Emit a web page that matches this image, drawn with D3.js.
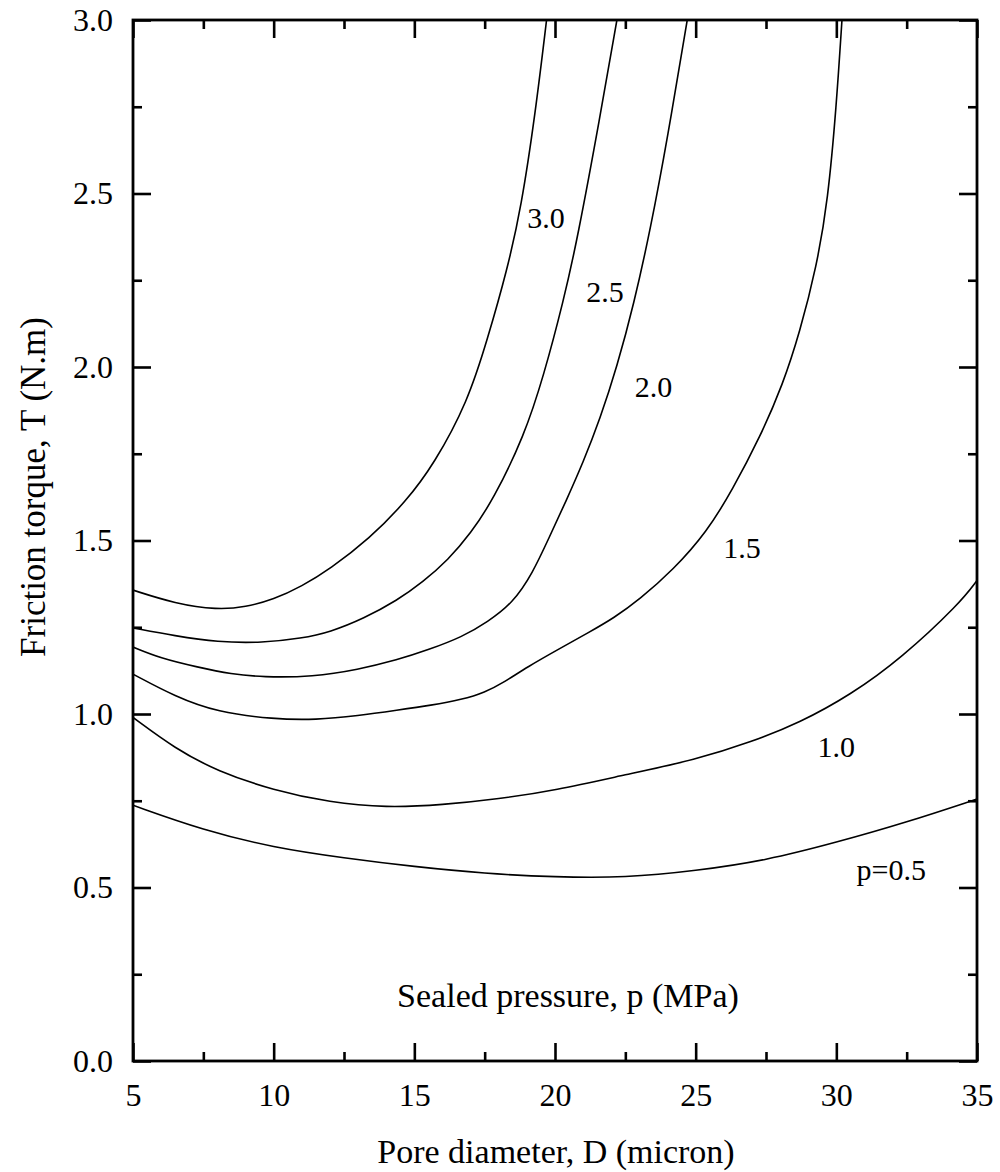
<!DOCTYPE html>
<html>
<head>
<meta charset="utf-8">
<script src="https://cdn.jsdelivr.net/npm/d3@7"></script>
<style>
  body { margin: 0; background: #fff; }
  svg text { font-family: "Liberation Serif", "Times New Roman", serif; fill: #000; }
</style>
</head>
<body>
<svg id="chart" width="1000" height="1172"></svg>
<script>
// Axis ticks
const xMajorTicks = [5, 10, 15, 20, 25, 30, 35];
const xMinorTicks = [7.5, 12.5, 17.5, 22.5, 27.5, 32.5];
const yMajorTicks = [0.0, 0.5, 1.0, 1.5, 2.0, 2.5, 3.0];
const yMinorTicks = [0.25, 0.75, 1.25, 1.75, 2.25, 2.75];

// Sealed pressure curves: pore diameter D (micron) vs friction torque T (N.m)
const p05D = [5, 7.5, 10, 12.5, 15, 17.5, 20, 22.5, 25, 27.5, 30, 32.5, 35];
const p05T = [0.737, 0.665, 0.615, 0.585, 0.56, 0.54, 0.53, 0.528, 0.548, 0.578, 0.63, 0.688, 0.755];

const p10D = [5, 6.5, 8, 10, 12, 14, 16, 18, 20, 22.5, 25, 27, 28.7, 30.5, 32.3, 34.4, 35];
const p10T = [0.99, 0.90, 0.835, 0.78, 0.745, 0.73, 0.738, 0.755, 0.78, 0.825, 0.868, 0.92, 0.975, 1.055, 1.16, 1.32, 1.385];

const p15D = [5, 6.5, 8, 10, 11.5, 13, 14.4, 15.6, 16.7, 17.5, 18.2, 19, 20.2, 21.2, 22.1, 23, 24.2, 25.4, 26.3, 27.3, 28.1, 28.7, 29.3, 29.7, 30.0, 30.2];
const p15T = [1.115, 1.05, 1.005, 0.985, 0.983, 0.995, 1.011, 1.025, 1.042, 1.062, 1.092, 1.135, 1.19, 1.235, 1.277, 1.33, 1.415, 1.525, 1.645, 1.80, 1.95, 2.10, 2.29, 2.48, 2.75, 3.0];

const p20D = [5, 6, 7.3, 8.5, 9.6, 11.4, 13, 14.4, 15.5, 16.7, 17.6, 18.5, 19.2, 19.8, 20.4, 21, 21.6, 22.2, 22.8, 23.4, 24, 24.7];
const p20T = [1.193, 1.16, 1.135, 1.115, 1.106, 1.107, 1.128, 1.156, 1.185, 1.222, 1.265, 1.32, 1.405, 1.51, 1.615, 1.725, 1.85, 2.0, 2.18, 2.40, 2.66, 3.0];

const p25D = [5, 6.5, 8, 9.6, 11, 12, 13.2, 14.4, 15.3, 16.2, 17, 17.8, 18.9, 19.6, 20.3, 20.8, 21.6, 22.2];
const p25T = [1.248, 1.225, 1.207, 1.205, 1.218, 1.236, 1.275, 1.328, 1.38, 1.444, 1.52, 1.617, 1.80, 1.975, 2.19, 2.37, 2.72, 3.0];

const p30D = [5, 6.5, 8, 9, 10, 11, 12, 13.4, 14.7, 15.7, 16.9, 17.6, 18.3, 18.8, 19.3, 19.7];
const p30T = [1.357, 1.318, 1.300, 1.308, 1.33, 1.368, 1.418, 1.505, 1.612, 1.72, 1.90, 2.08, 2.28, 2.46, 2.73, 3.0];

// Curve labels
const curveLabels = ["p=0.5", "1.0", "1.5", "2.0", "2.5", "3.0"];
const labelD = [31.95, 30.0, 26.65, 23.5, 21.78, 19.68];
const labelT = [0.523, 0.876, 1.45, 1.913, 2.187, 2.40];

const series = [
  { D: p05D, T: p05T },
  { D: p10D, T: p10T },
  { D: p15D, T: p15T },
  { D: p20D, T: p20T },
  { D: p25D, T: p25T },
  { D: p30D, T: p30T }
];

const plotLeft = 133, plotRight = 977, plotTop = 20, plotBottom = 1061;
const W = plotRight - plotLeft, H = plotBottom - plotTop;

const svg = d3.select("#chart");
const g = svg.append("g").attr("transform", `translate(${plotLeft},${plotTop})`);

const x = d3.scaleLinear().domain([5, 35]).range([0, W]);
const y = d3.scaleLinear().domain([0, 3]).range([H, 0]);

// Clip so the steep branches end at the top border
g.append("clipPath").attr("id", "plot-clip")
  .append("rect").attr("width", W).attr("height", H);

const line = d3.line()
  .x(d => x(d[0]))
  .y(d => y(d[1]))
  .curve(d3.curveBasis);

g.append("g").attr("clip-path", "url(#plot-clip)")
  .selectAll("path")
  .data(series)
  .join("path")
  .attr("d", s => line(s.D.map((d, i) => [d, s.T[i]])))
  .attr("fill", "none")
  .attr("stroke", "#000")
  .attr("stroke-width", 1.6);

// Axes with inward ticks on all four sides
const TICK_W = 2.6;
function styleAxis(sel) {
  sel.select(".domain").remove();
  sel.selectAll(".tick line").attr("stroke", "#000").attr("stroke-width", TICK_W);
}

g.append("g").attr("transform", `translate(0,${H})`)
  .call(d3.axisBottom(x).tickValues(xMajorTicks).tickSize(-18).tickPadding(22).tickFormat(d3.format("d")))
  .call(styleAxis)
  .call(a => a.selectAll("text").attr("font-size", 32).attr("font-family", "Liberation Serif"));
g.append("g").attr("transform", `translate(0,${H})`)
  .call(d3.axisBottom(x).tickValues(xMinorTicks).tickSize(-9).tickFormat(""))
  .call(styleAxis);
g.append("g")
  .call(d3.axisTop(x).tickValues(xMajorTicks).tickSize(-18).tickFormat(""))
  .call(styleAxis);
g.append("g")
  .call(d3.axisTop(x).tickValues(xMinorTicks).tickSize(-9).tickFormat(""))
  .call(styleAxis);

g.append("g")
  .call(d3.axisLeft(y).tickValues(yMajorTicks).tickSize(-18).tickPadding(20).tickFormat(d3.format(".1f")))
  .call(styleAxis)
  .call(a => a.selectAll("text").attr("font-size", 32).attr("font-family", "Liberation Serif"));
g.append("g")
  .call(d3.axisLeft(y).tickValues(yMinorTicks).tickSize(-9).tickFormat(""))
  .call(styleAxis);
g.append("g").attr("transform", `translate(${W},0)`)
  .call(d3.axisRight(y).tickValues(yMajorTicks).tickSize(-18).tickFormat(""))
  .call(styleAxis);
g.append("g").attr("transform", `translate(${W},0)`)
  .call(d3.axisRight(y).tickValues(yMinorTicks).tickSize(-9).tickFormat(""))
  .call(styleAxis);

// Frame
g.append("rect")
  .attr("width", W).attr("height", H)
  .attr("fill", "none").attr("stroke", "#000").attr("stroke-width", 2.8);

// Curve labels
g.append("g").selectAll("text")
  .data(curveLabels)
  .join("text")
  .attr("x", (d, i) => x(labelD[i]))
  .attr("y", (d, i) => y(labelT[i]))
  .attr("text-anchor", "middle")
  .attr("font-size", 30)
  .text(d => d);

// Caption inside the plot
svg.append("text")
  .attr("x", 568).attr("y", 1007)
  .attr("text-anchor", "middle")
  .attr("font-size", 34)
  .text("Sealed pressure, p (MPa)");

// Axis titles
svg.append("text")
  .attr("x", 556).attr("y", 1163)
  .attr("text-anchor", "middle")
  .attr("font-size", 34)
  .text("Pore diameter, D (micron)");

svg.append("text")
  .attr("transform", "translate(45,487) rotate(-90)")
  .attr("text-anchor", "middle")
  .attr("font-size", 35)
  .text("Friction torque, T (N.m)");
</script>
</body>
</html>
